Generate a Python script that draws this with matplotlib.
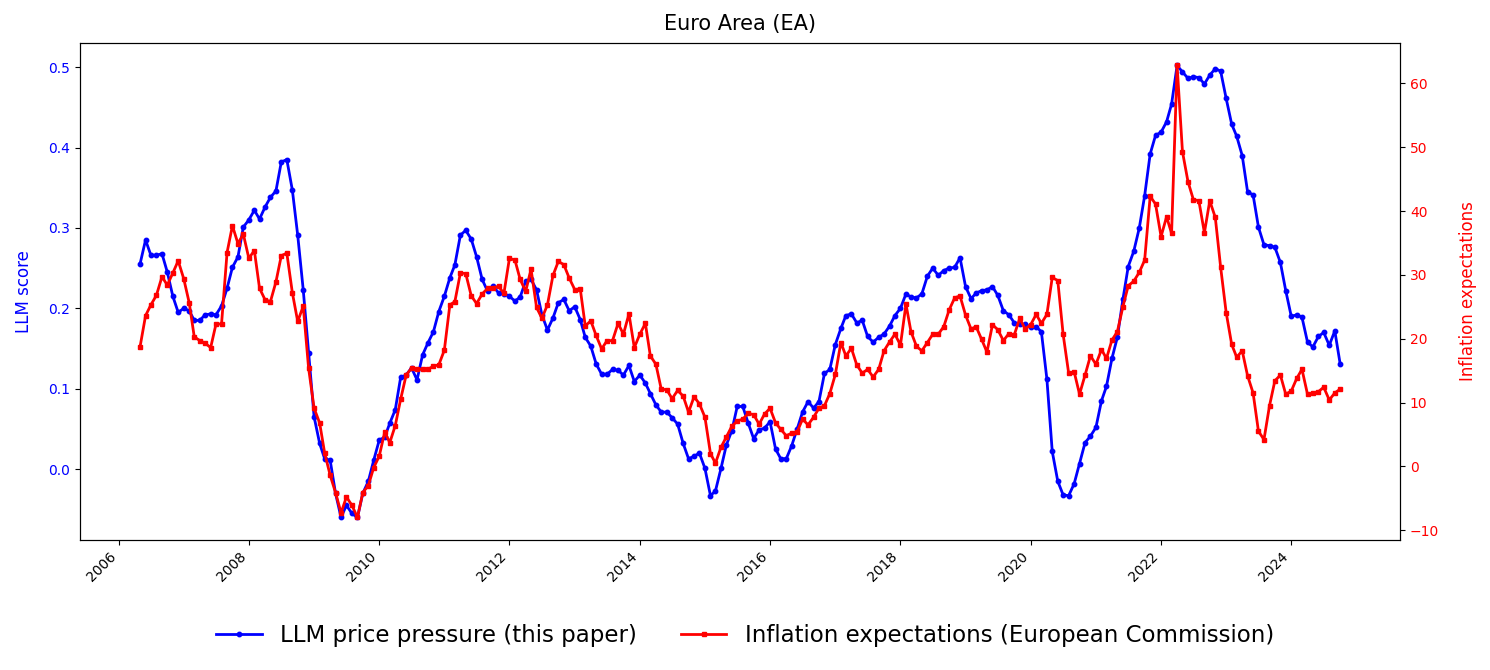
import matplotlib
matplotlib.use("Agg")
import matplotlib.pyplot as plt
import matplotlib.dates as mdates
import pandas as pd
import numpy as np

start_month = "2006-05-01"
n_months = 222

llm_score = [
    0.255, 0.285, 0.266, 0.266, 0.268, 0.245, 0.215, 0.195, 0.200, 0.197,
    0.185, 0.185, 0.192, 0.193, 0.192, 0.203, 0.225, 0.251, 0.264, 0.301,
    0.310, 0.322, 0.311, 0.326, 0.338, 0.346, 0.382, 0.385, 0.347, 0.291,
    0.223, 0.145, 0.065, 0.032, 0.013, 0.011, -0.030, -0.060, -0.045, -0.055,
    -0.060, -0.030, -0.015, 0.011, 0.036, 0.040, 0.057, 0.074, 0.114, 0.117,
    0.126, 0.111, 0.142, 0.157, 0.171, 0.196, 0.215, 0.238, 0.254, 0.291,
    0.297, 0.286, 0.264, 0.236, 0.221, 0.228, 0.219, 0.218, 0.215, 0.209,
    0.214, 0.234, 0.236, 0.223, 0.192, 0.173, 0.188, 0.207, 0.211, 0.197,
    0.202, 0.186, 0.164, 0.153, 0.131, 0.118, 0.118, 0.124, 0.123, 0.117,
    0.129, 0.109, 0.117, 0.107, 0.094, 0.080, 0.071, 0.071, 0.064, 0.056,
    0.032, 0.013, 0.016, 0.020, 0.001, -0.033, -0.027, 0.001, 0.030, 0.048,
    0.078, 0.078, 0.057, 0.038, 0.049, 0.051, 0.059, 0.025, 0.013, 0.013,
    0.029, 0.050, 0.071, 0.084, 0.076, 0.084, 0.119, 0.124, 0.155, 0.175,
    0.191, 0.193, 0.182, 0.185, 0.165, 0.158, 0.164, 0.168, 0.178, 0.191,
    0.200, 0.218, 0.214, 0.213, 0.218, 0.240, 0.250, 0.241, 0.247, 0.250,
    0.251, 0.263, 0.227, 0.212, 0.219, 0.222, 0.223, 0.227, 0.216, 0.197,
    0.192, 0.182, 0.180, 0.180, 0.177, 0.177, 0.171, 0.112, 0.022, -0.015,
    -0.032, -0.033, -0.018, 0.007, 0.033, 0.041, 0.052, 0.085, 0.103, 0.138,
    0.164, 0.211, 0.252, 0.271, 0.300, 0.340, 0.392, 0.415, 0.419, 0.432,
    0.454, 0.502, 0.494, 0.486, 0.488, 0.487, 0.479, 0.490, 0.498, 0.495,
    0.461, 0.429, 0.414, 0.390, 0.345, 0.341, 0.301, 0.279, 0.278, 0.276,
    0.257, 0.222, 0.190, 0.192, 0.189, 0.158, 0.152, 0.165, 0.170, 0.154,
    0.172, 0.131,
]

inflation_expectations = [
    18.7, 23.6, 25.3, 26.8, 29.7, 28.4, 30.3, 32.2, 29.4, 25.6,
    20.3, 19.7, 19.3, 18.6, 22.3, 22.3, 33.5, 37.7, 34.9, 36.4,
    32.6, 33.8, 27.9, 26.1, 25.8, 28.9, 33.0, 33.4, 27.2, 22.7,
    25.1, 15.4, 9.1, 6.8, 2.1, -1.4, -4.1, -7.3, -4.8, -6.1,
    -8.0, -4.1, -3.0, -0.2, 1.6, 5.4, 3.7, 6.4, 10.5, 14.3,
    15.4, 15.2, 15.2, 15.2, 15.7, 15.9, 18.2, 25.3, 25.8, 30.3,
    30.2, 26.7, 25.5, 27.0, 27.9, 28.0, 28.2, 27.1, 32.6, 32.3,
    29.3, 27.4, 30.9, 24.9, 23.2, 25.3, 29.9, 32.1, 31.6, 29.5,
    27.7, 27.8, 22.0, 22.8, 20.5, 18.4, 19.7, 19.7, 22.4, 20.7,
    23.9, 18.6, 20.7, 22.4, 17.3, 16.0, 12.1, 12.0, 10.6, 11.9,
    11.0, 8.5, 10.9, 9.8, 7.7, 2.0, 0.5, 3.0, 4.6, 6.3,
    7.1, 7.4, 8.3, 8.1, 6.6, 8.2, 9.1, 6.8, 5.8, 4.8,
    5.2, 5.4, 7.4, 6.5, 7.7, 9.1, 9.5, 11.4, 14.4, 19.4,
    17.3, 18.5, 15.9, 14.6, 15.2, 14.0, 15.2, 18.1, 19.5, 20.7,
    19.0, 25.4, 21.1, 18.8, 18.1, 19.4, 20.7, 20.7, 21.9, 24.5,
    26.4, 26.7, 23.7, 21.5, 21.9, 19.9, 17.9, 22.2, 21.4, 19.7,
    20.8, 20.6, 23.2, 21.5, 22.2, 23.8, 22.4, 23.8, 29.6, 29.1,
    20.7, 14.6, 14.8, 11.3, 14.3, 17.3, 16.0, 18.3, 16.9, 19.8,
    21.1, 25.0, 28.3, 29.0, 30.4, 32.3, 42.3, 41.1, 36.0, 39.1,
    36.5, 62.8, 49.3, 44.6, 41.8, 41.6, 36.6, 41.6, 39.0, 31.2,
    24.1, 19.1, 17.1, 18.1, 14.2, 11.5, 5.5, 4.2, 9.5, 13.4,
    14.3, 11.3, 11.8, 13.8, 15.2, 11.3, 11.5, 11.7, 12.4, 10.4,
    11.5, 12.1,
]

title = "Euro Area (EA)"
left_label = "LLM score"
right_label = "Inflation expectations"
legend_labels = ["LLM price pressure (this paper)", "Inflation expectations (European Commission)"]

dates = pd.date_range(start_month, periods=n_months, freq="MS")

fig = plt.figure(figsize=(14.9, 6.7), dpi=100)
ax = fig.add_axes([0.0537, 0.194, 0.886, 0.742])
ax2 = ax.twinx()

l1, = ax.plot(dates, llm_score, color="blue", marker="o", markersize=3.2, linewidth=2,
              label=legend_labels[0])
l2, = ax2.plot(dates, inflation_expectations, color="red", marker="s", markersize=3.2,
               linewidth=2, label=legend_labels[1])

ax.set_title(title, fontsize=15, pad=9)
ax.set_ylabel(left_label, color="blue", fontsize=12, labelpad=11)
ax2.set_ylabel(right_label, color="red", fontsize=12, labelpad=14)
ax.tick_params(axis="y", labelcolor="blue", labelsize=10)
ax2.tick_params(axis="y", labelcolor="red", labelsize=10)
ax.tick_params(axis="x", labelsize=10)

ax.xaxis.set_major_locator(mdates.YearLocator(2))
ax.xaxis.set_major_formatter(mdates.DateFormatter("%Y"))
plt.setp(ax.get_xticklabels(), rotation=45, ha="right")

fig.legend([l1, l2], legend_labels, loc="lower center", ncol=2, frameon=False,
           fontsize=16.5, bbox_to_anchor=(0.5, 0.003), columnspacing=1.9)

fig.savefig("out.png", dpi=100)
